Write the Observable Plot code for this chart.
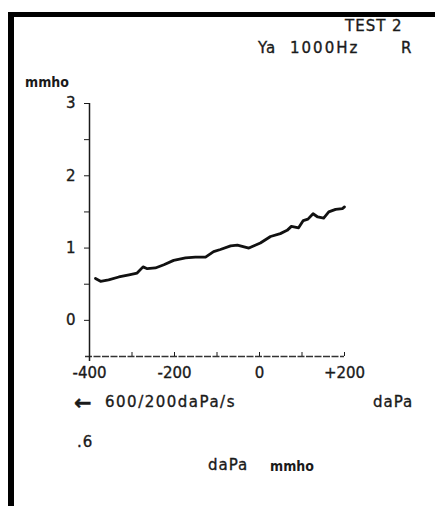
<!DOCTYPE html>
<html>
<head>
<meta charset="utf-8">
<script src="https://cdn.jsdelivr.net/npm/d3@7"></script>
<script src="https://cdn.jsdelivr.net/npm/@observablehq/plot@0.6"></script>
<style>
  html, body { margin: 0; padding: 0; background: #fff; }
  #wrap { position: relative; width: 435px; height: 506px; overflow: hidden; background: #fff; }
  .bar { position: absolute; background: #000; }
  .t { position: absolute; font-family: "DejaVu Sans", sans-serif; font-size: 15px; line-height: 15px; color: #1a1a1a; white-space: nowrap; -webkit-text-stroke: 0.35px #1a1a1a; }
  .mm { font-family: "DejaVu Sans Condensed", "DejaVu Sans", sans-serif; font-stretch: condensed; font-weight: bold; font-size: 14px; line-height: 14px; -webkit-text-stroke: 0; }
  #chart { position: absolute; left: 0; top: 0; }
  #chart svg g[aria-label="y-axis tick label"] text,
  #chart svg g[aria-label="x-axis tick label"] text { stroke: #1a1a1a; stroke-width: 0.35px; }
</style>
</head>
<body>
<div id="wrap">
  <div id="chart"></div>
  <div class="bar" style="left:8px;top:12px;width:427px;height:5px;"></div>
  <div class="bar" style="left:8px;top:12px;width:6px;height:494px;"></div>
  <div class="t" style="left:345px;top:19px;letter-spacing:1px;">TEST 2</div>
  <div class="t" style="left:258px;top:41px;letter-spacing:1px;">Ya</div>
  <div class="t" style="left:290px;top:41px;letter-spacing:2px;">1000Hz</div>
  <div class="t" style="left:401px;top:41px;">R</div>
  <div class="t mm" style="left:25px;top:75px;">mmho</div>
  <div class="t" style="left:74px;top:393px;font-size:21px;line-height:21px;font-weight:bold;">←</div>
  <div class="t" style="left:105px;top:395px;letter-spacing:1.5px;">600/200daPa/s</div>
  <div class="t" style="left:373px;top:395px;letter-spacing:1px;">daPa</div>
  <div class="t" style="left:77px;top:435px;letter-spacing:1px;">.6</div>
  <div class="t" style="left:208px;top:458px;letter-spacing:1px;">daPa</div>
  <div class="t mm" style="left:270px;top:459px;">mmho</div>
</div>
<script>
// Pressure (daPa) and admittance (mmho)
const pressure = [-386, -374, -355, -331, -307, -288, -274, -264, -245, -225, -202, -174, -151, -127, -108, -92, -68, -52, -25, 2, 26, 49, 65, 75, 92, 103, 114, 126, 137, 151, 163, 179, 195, 200];
const admittance = [0.58, 0.54, 0.56, 0.60, 0.63, 0.655, 0.74, 0.715, 0.725, 0.77, 0.83, 0.865, 0.875, 0.875, 0.95, 0.98, 1.03, 1.04, 1.0, 1.07, 1.16, 1.20, 1.245, 1.30, 1.28, 1.38, 1.40, 1.475, 1.43, 1.415, 1.50, 1.535, 1.545, 1.57];

const xDomain = [-400, 200];
const yDomain = [-0.5, 3];
const xMinorTicks = [-400, -300, -200, -100, 0, 100, 200];
const xLabelTicks = [-400, -200, 0, 200];
const xTickLabels = ["-400", "-200", "0", "+200"];
const yMinorTicks = [0, 0.5, 1, 1.5, 2, 2.5, 3];
const yLabelTicks = [0, 1, 2, 3];
const yTickLabels = ["0", "1", "2", "3"];

const data = pressure.map((p, i) => ({p, v: admittance[i]}));

const chart = Plot.plot({
  width: 435,
  height: 506,
  marginLeft: 89,
  marginRight: 91,
  marginTop: 103,
  marginBottom: 150,
  style: {fontFamily: "DejaVu Sans, sans-serif", fontSize: "15px", color: "#1a1a1a", background: "transparent"},
  x: {domain: xDomain, label: null},
  y: {domain: yDomain, label: null},
  marks: [
    Plot.ruleY([yDomain[0]], {stroke: "#333", strokeWidth: 1.3, insetLeft: -4, strokeDasharray: "7,1.5"}),
    Plot.ruleX([xDomain[0]], {stroke: "#1a1a1a", strokeWidth: 1.5, insetBottom: -5}),
    Plot.axisY({ticks: yMinorTicks, tickSize: 5, tickFormat: () => "", stroke: "#1a1a1a", label: null}),
    Plot.axisY({ticks: yLabelTicks, tickSize: 0, tickPadding: 14, tickFormat: (d) => yTickLabels[yLabelTicks.indexOf(d)], label: null}),
    Plot.axisX({ticks: xMinorTicks, tickSize: -4, tickFormat: () => "", stroke: "#1a1a1a", label: null}),
    Plot.axisX({ticks: xLabelTicks, tickSize: 0, tickPadding: 11, tickFormat: (d) => xTickLabels[xLabelTicks.indexOf(d)], label: null}),
    Plot.line(data, {x: "p", y: "v", stroke: "#111", strokeWidth: 2.8, strokeLinejoin: "round", strokeLinecap: "round"})
  ]
});
document.getElementById("chart").appendChild(chart);
</script>
</body>
</html>
